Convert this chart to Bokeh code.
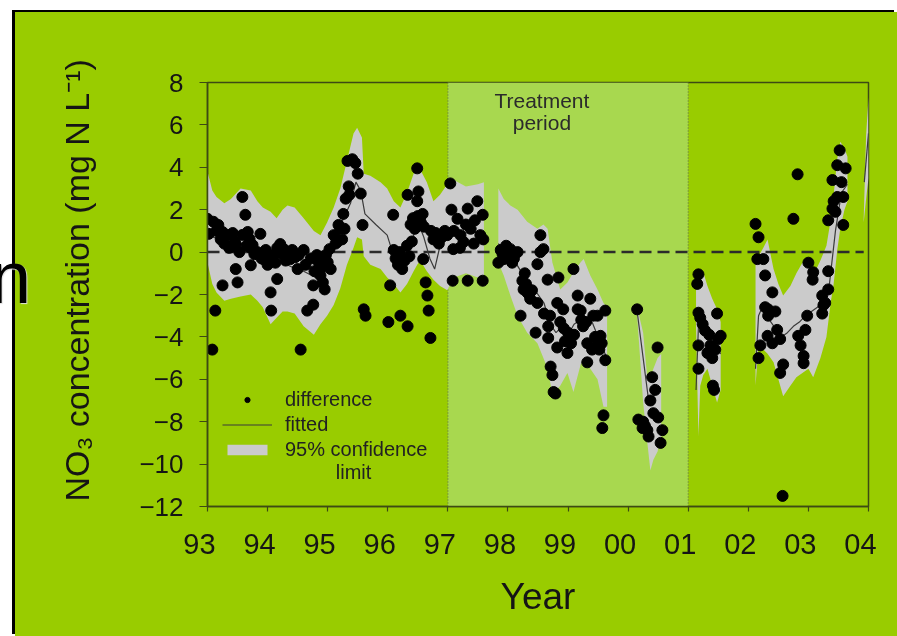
from bokeh.plotting import figure
from bokeh.models import Range1d, FixedTicker, Legend, LegendItem, BoxAnnotation, Span, Label, Div
from bokeh.layouts import column
from bokeh.embed import file_html
from bokeh.resources import INLINE
from bokeh.core.properties import value

# ---------------- data ----------------
year_ticks = [1993, 1994, 1995, 1996, 1997, 1998, 1999, 2000, 2001, 2002, 2003, 2004]
year_labels = ["93", "94", "95", "96", "97", "98", "99", "00", "01", "02", "03", "04"]
conc_ticks = [-12, -10, -8, -6, -4, -2, 0, 2, 4, 6, 8]

treatment_start = 1997.0
treatment_end = 2001.0
zero_x = [1993.0, 2003.92]
zero_y = [0.0, 0.0]

# observed differences, by sampling period
diff1_x = [1993.00, 1993.02, 1993.08, 1993.10, 1993.13, 1993.15, 1993.18, 1993.22, 1993.25, 1993.25,
           1993.28, 1993.33, 1993.36, 1993.38, 1993.42, 1993.45, 1993.47, 1993.47, 1993.50, 1993.53,
           1993.58, 1993.58, 1993.63, 1993.65, 1993.67, 1993.70, 1993.72, 1993.72, 1993.75, 1993.78,
           1993.83, 1993.88, 1993.90, 1993.93, 1993.97, 1994.00, 1994.02, 1994.05, 1994.06, 1994.10,
           1994.13, 1994.16, 1994.16, 1994.21, 1994.25, 1994.27, 1994.30, 1994.33, 1994.38, 1994.41,
           1994.46, 1994.50, 1994.52, 1994.55, 1994.60, 1994.63, 1994.66, 1994.72, 1994.76, 1994.76,
           1994.78, 1994.82, 1994.85, 1994.88, 1994.88, 1994.92, 1994.95, 1994.97, 1995.00, 1995.03,
           1995.05, 1995.10, 1995.13, 1995.16, 1995.18, 1995.21, 1995.24, 1995.26, 1995.28, 1995.30,
           1995.35, 1995.36, 1995.33, 1995.41, 1995.46, 1995.50, 1995.55, 1995.58, 1995.60, 1995.63,
           1996.01, 1996.04, 1996.09, 1996.10, 1996.13, 1996.17, 1996.20, 1996.21, 1996.24, 1996.28,
           1996.32, 1996.33, 1996.33, 1996.36, 1996.38, 1996.40, 1996.42, 1996.45, 1996.49, 1996.49,
           1996.51, 1996.50, 1996.55, 1996.58, 1996.60, 1996.59, 1996.63, 1996.66, 1996.68, 1996.71,
           1996.72, 1996.76, 1996.80, 1996.85, 1996.90, 1996.95, 1996.99, 1997.04, 1997.06, 1997.08,
           1997.09, 1997.10, 1997.16, 1997.20, 1997.21, 1997.26, 1997.30, 1997.33, 1997.33, 1997.38,
           1997.43, 1997.45, 1997.49, 1997.54, 1997.58, 1997.58, 1997.59]
diff1_y = [1.57, 0.86, -4.6, 1.43, -2.76, 1.0, 1.28, 0.6, 0.95, -1.57,
           0.4, 0.81, 0.2, 0.24, 0.9, 0.5, -0.8, 0.38, -1.43, 0.0,
           0.81, 2.6, 1.76, 0.3, 0.95, 0.62, -0.62, 0.2, 0.33, -0.1,
           0.0, 0.86, -0.3, -0.33, 0.1, -0.6, -0.14, -1.9, -2.76, -0.14,
           -0.5, -1.27, 0.2, 0.38, -0.1, 0.14, -0.4, -0.1, -0.33, 0.1,
           -0.24, -0.8, -0.14, -4.6, 0.1, -0.6, -2.76, -0.3, -2.48, -1.57,
           -0.9, -0.14, -0.48, -0.8, -1.1, -1.43, -1.76, -0.14, -0.48, 0.14,
           -0.8, 0.8, 0.4, 0.48, 1.28, 1.1, 0.6, 1.8, 1.1, 2.52,
           3.1, 2.7, 4.3, 4.38, 4.2, 3.7, 2.76, 1.28, -2.7, -3.0,
           -3.3, -1.57, 1.76, 0.1, -0.3, -0.6, 0.0, -3.0, -0.8, -0.4,
           0.3, -3.5, 2.7, -0.2, 1.3, 0.5, 1.6, 1.1, 3.95, 2.4,
           2.86, 1.7, 1.4, 1.8, 1.2, -0.33, -1.43, -2.05, -2.76, -4.05,
           1.0, 0.6, 0.9, 0.4, 0.7, 1.0, 0.8, 3.24, 2.0, -1.35,
           0.14, 1.0, 1.57, 0.2, 0.8, 0.48, 1.3, 2.05, -1.35, 1.1,
           0.4, 1.5, 2.4, 0.8, 1.76, -1.35, 0.6]

diff2_x = [1997.84, 1997.88, 1997.91, 1997.93, 1997.97, 1998.00, 1998.04, 1998.07, 1998.10, 1998.16,
           1998.21, 1998.24, 1998.26, 1998.28, 1998.30, 1998.32, 1998.35, 1998.37, 1998.40, 1998.46,
           1998.49, 1998.49, 1998.54, 1998.54, 1998.59, 1998.60, 1998.66, 1998.67, 1998.67, 1998.70,
           1998.71, 1998.74, 1998.76, 1998.79, 1998.82, 1998.82, 1998.84, 1998.87, 1998.92, 1998.93,
           1998.95, 1998.99, 1999.00, 1999.05, 1999.09, 1999.10, 1999.16, 1999.16, 1999.21, 1999.22,
           1999.25, 1999.30, 1999.32, 1999.32, 1999.37, 1999.40, 1999.42, 1999.45, 1999.49, 1999.49,
           1999.52, 1999.54, 1999.56, 1999.57, 1999.59, 1999.62, 1999.62]
diff2_y = [-0.5, 0.1, -0.1, -0.33, 0.3, -0.2, 0.14, -0.5, -0.3, 0.0,
           -3.0, -1.35, -1.76, -1.0, -1.5, -1.9, -2.0, -2.2, -1.8, -3.8,
           -0.57, -2.4, 0.8, 0.0, 0.14, -2.9, -1.3, -3.5, -4.05, -3.0,
           -5.4, -5.8, -6.6, -6.67, -2.4, -4.5, -1.2, -3.3, -2.7, -3.6,
           -4.2, -4.76, -3.8, -4.3, -0.8, -3.9, -2.05, -2.7, -2.76, -3.2,
           -3.5, -3.3, -4.3, -5.2, -2.2, -4.6, -3.0, -4.0, -3.0, -4.4,
           -4.6, -3.95, -4.3, -8.3, -7.7, -2.76, -5.1]

diff3_x = [2000.15, 2000.17, 2000.24, 2000.25, 2000.28, 2000.32, 2000.34, 2000.37, 2000.40, 2000.42,
           2000.45, 2000.49, 2000.50, 2000.54, 2000.57]
diff3_y = [-2.7, -7.9, -8.3, -8.0, -8.2, -8.4, -8.7, -7.0, -5.9, -7.6,
           -6.5, -4.5, -7.8, -9.0, -8.4]

diff4_x = [2001.15, 2001.17, 2001.17, 2001.17, 2001.17, 2001.20, 2001.24, 2001.28, 2001.32, 2001.35,
           2001.37, 2001.40, 2001.41, 2001.43, 2001.45, 2001.48, 2001.50, 2001.54]
diff4_y = [-1.5, -1.05, -2.86, -4.4, -5.5, -3.1, -3.4, -3.7, -4.76, -3.9,
           -4.4, -5.0, -6.3, -6.5, -4.6, -2.9, -4.1, -3.95]

diff5_x = [2002.12, 2002.15, 2002.17, 2002.17, 2002.20, 2002.25, 2002.28, 2002.28, 2002.32, 2002.33,
           2002.33, 2002.40, 2002.40, 2002.45, 2002.48, 2002.53, 2002.53, 2002.57, 2002.58, 2002.75,
           2002.82, 2002.83, 2002.87, 2002.92, 2002.92, 2002.95, 2002.98, 2003.00, 2003.07, 2003.08,
           2003.23, 2003.23, 2003.25, 2003.28, 2003.33, 2003.33, 2003.33, 2003.40, 2003.40, 2003.42,
           2003.45, 2003.48, 2003.48, 2003.52, 2003.55, 2003.58, 2003.58, 2003.62]
diff5_y = [1.33, -0.33, 0.7, -5.0, -4.4, -0.33, -1.1, -2.6, -3.95, -2.7,
           -3.0, -1.9, -4.3, -2.8, -3.67, -4.1, -5.7, -11.5, -5.3, 1.57,
           3.67, -3.95, -4.4, -4.9, -5.24, -3.67, -3.0, -0.5, -1.3, -0.95,
           -2.05, -2.9, -2.5, -2.4, -0.9, -1.76, 1.5, 2.05, 3.4, 2.4,
           1.9, 2.6, 4.1, 4.8, 3.3, 2.6, 1.28, 3.95]

# fitted trend
fit1_x = [1993.0, 1993.2, 1993.4, 1993.6, 1993.8, 1994.0, 1994.2, 1994.4, 1994.6, 1994.8,
          1994.95, 1995.1, 1995.25, 1995.38, 1995.47, 1995.55, 1995.62, 1995.8, 1995.99, 1996.1,
          1996.2, 1996.3, 1996.43, 1996.52, 1996.6, 1996.7, 1996.78, 1996.87, 1997.0, 1997.2,
          1997.4, 1997.6]
fit1_y = [0.8, 0.6, 0.3, 0.4, 0.1, -0.1, -0.4, -0.7, -0.9, -1.2,
          -0.6, 0.5, 1.5, 2.3, 3.3, 2.9, 1.8, 1.3, 0.8, -0.2,
          -1.0, -0.2, 0.8, 1.3, 0.7, -0.3, -0.8, 0.3, 0.9, 0.9,
          0.9, 1.0]
fit2_x = [1997.84, 1998.0, 1998.15, 1998.3, 1998.45, 1998.6, 1998.7, 1998.8, 1998.9, 1999.0,
          1999.1, 1999.2, 1999.3, 1999.4, 1999.5, 1999.6, 1999.65]
fit2_y = [0.4, -0.1, -0.6, -1.3, -1.8, -2.4, -3.4, -3.8, -3.5, -3.9,
          -3.4, -3.2, -3.6, -3.3, -4.0, -4.7, -5.0]
fit3_x = [2000.15, 2000.25, 2000.35, 2000.42, 2000.5, 2000.55]
fit3_y = [-2.8, -5.0, -7.2, -6.8, -6.5, -6.4]
fit4_x = [2001.13, 2001.17, 2001.25, 2001.35, 2001.45, 2001.54]
fit4_y = [-6.5, -3.5, -3.6, -4.0, -4.5, -4.8]
fit5_x = [2002.12, 2002.17, 2002.25, 2002.35, 2002.45, 2002.55, 2002.65, 2002.75, 2002.85, 2002.95,
          2003.05, 2003.15, 2003.25, 2003.35, 2003.45, 2003.55, 2003.65]
fit5_y = [-5.5, -3.0, -2.5, -3.2, -3.6, -4.0, -3.8, -3.5, -3.3, -3.0,
          -2.8, -2.6, -2.3, -1.5, 1.0, 2.8, 3.2]
fit6_x = [2003.93, 2004.0]
fit6_y = [3.3, 5.6]

# 95% confidence limits
band1_x = [1993.00, 1993.08, 1993.15, 1993.28, 1993.39, 1993.55, 1993.72, 1993.83, 1993.92, 1994.05,
           1994.15, 1994.25, 1994.33, 1994.45, 1994.60, 1994.77, 1994.88, 1994.99, 1995.10, 1995.21,
           1995.32, 1995.43, 1995.49, 1995.57, 1995.60, 1995.71, 1995.88, 1995.99, 1996.10, 1996.21,
           1996.32, 1996.43, 1996.49, 1996.54, 1996.65, 1996.76, 1996.87, 1996.99, 1997.10, 1997.30,
           1997.50, 1997.60]
band1_up = [3.8, 2.9, 2.6, 2.3, 2.5, 3.0, 2.9, 2.4, 2.1, 1.9,
            1.6, 2.0, 2.2, 2.1, 1.6, 1.0, 0.8, 1.4, 2.1, 3.0,
            4.3, 5.6, 5.86, 5.4, 3.7, 3.6, 3.3, 3.0, 2.4, 2.1,
            2.8, 3.7, 4.0, 3.9, 3.3, 2.4, 2.7, 3.2, 3.4, 3.1,
            3.2, 3.3]
band1_lo = [-0.5, -1.5, -1.9, -2.3, -2.2, -2.1, -2.0, -2.3, -2.6, -3.4,
            -3.1, -2.8, -2.8, -2.9, -3.5, -3.9, -3.4, -3.0, -2.5, -1.7,
            -0.6, 0.2, 0.7, 0.6, -0.2, -0.6, -0.8, -1.2, -1.5, -1.9,
            -1.5, -0.9, -0.6, -0.4, -0.9, -1.3, -1.6, -1.8, -1.2, -1.0,
            -1.2, -1.1]
band2_x = [1997.84, 1997.93, 1998.04, 1998.16, 1998.32, 1998.49, 1998.59, 1998.66, 1998.74, 1998.87,
           1998.99, 1999.09, 1999.21, 1999.26, 1999.37, 1999.49, 1999.59, 1999.65]
band2_up = [3.0, 2.5, 2.2, 2.0, 1.43, 1.1, 1.3, 1.1, -0.5, -1.76,
            -1.43, -0.95, -0.48, -0.33, -1.1, -1.76, -2.4, -2.6]
band2_lo = [-0.5, -1.1, -2.05, -3.0, -3.8, -4.3, -5.0, -5.5, -6.7, -6.3,
            -5.7, -6.6, -5.3, -5.1, -5.5, -6.0, -7.3, -7.3]
band3_x = [2000.15, 2000.25, 2000.32, 2000.37, 2000.42, 2000.49, 2000.55]
band3_up = [-2.6, -3.8, -6.0, -5.9, -5.5, -5.0, -4.8]
band3_lo = [-3.0, -7.1, -9.0, -10.3, -9.8, -9.4, -8.7]
band4_x = [2001.13, 2001.17, 2001.20, 2001.25, 2001.32, 2001.40, 2001.48, 2001.54]
band4_up = [-1.6, -1.4, -1.1, -0.95, -1.6, -2.2, -2.7, -3.3]
band4_lo = [-3.5, -8.7, -6.3, -5.8, -5.5, -6.3, -7.1, -6.5]
band5_x = [2002.12, 2002.17, 2002.25, 2002.32, 2002.42, 2002.50, 2002.58, 2002.70, 2002.80, 2002.90,
           2003.00, 2003.08, 2003.20, 2003.30, 2003.37, 2003.42, 2003.48, 2003.53, 2003.60, 2003.65]
band5_up = [-0.5, -0.2, 0.2, 0.6, -0.8, -1.5, -2.05, -1.6, -1.0, -0.5,
            -0.6, -1.1, -0.4, 0.3, 1.5, 2.7, 4.4, 5.2, 4.9, 4.5]
band5_lo = [-6.3, -4.4, -4.6, -4.8, -5.2, -6.0, -6.8, -6.3, -5.9, -5.7,
            -5.5, -5.9, -5.0, -4.0, -2.4, -1.5, 0.1, 1.1, 2.0, 2.4]
band6_x = [2003.92, 2003.96, 2004.0]
band6_up = [1.6, 5.5, 7.3]
band6_lo = [1.4, 2.5, 3.5]

# ---------------- style ----------------
FONT = "Liberation Sans"
BG = "#99cc00"
TREAT = "#a8d84f"
BAND = "#cbcbcb"
AXIS = "#3d4a14"
TXT = "#151515"
NB = "\u00a0"

p = figure(width=882, height=624, output_backend="svg", toolbar_location=None,
           x_range=Range1d(1993, 2004), y_range=Range1d(-12, 8),
           background_fill_color=BG, border_fill_color=BG,
           min_border_left=192, min_border_right=29, min_border_top=70, min_border_bottom=130)
p.styles = {"position": "fixed", "left": "15px", "top": "12px",
            "background-color": BG,
            "box-shadow": "-3px -2px 0px 0px #000000"}
p.xgrid.visible = False
p.ygrid.visible = False
p.outline_line_color = AXIS
p.outline_line_width = 1.5

p.add_layout(BoxAnnotation(left=treatment_start, right=treatment_end, fill_color=TREAT,
                           fill_alpha=1.0, line_alpha=0, level="underlay"))
for loc in (treatment_start, treatment_end):
    p.add_layout(Span(location=loc, dimension="height", line_color="#667744",
                      line_dash="1 2", line_width=1.2, level="underlay"))

bands = [(band1_x, band1_up, band1_lo), (band2_x, band2_up, band2_lo), (band3_x, band3_up, band3_lo),
         (band4_x, band4_up, band4_lo), (band5_x, band5_up, band5_lo), (band6_x, band6_up, band6_lo)]
band_r = [p.varea(x=bx, y1=lo, y2=up, fill_color=BAND, fill_alpha=1.0) for bx, up, lo in bands]

p.line(zero_x, zero_y, line_color="#2b2b2b", line_width=2.5, line_dash="12 6")

fits = [(fit1_x, fit1_y), (fit2_x, fit2_y), (fit3_x, fit3_y), (fit4_x, fit4_y), (fit5_x, fit5_y), (fit6_x, fit6_y)]
fit_r = [p.line(fx, fy, line_color="#3a3a3a", line_width=1.2) for fx, fy in fits]

all_x = diff1_x + diff2_x + diff3_x + diff4_x + diff5_x
all_y = diff1_y + diff2_y + diff3_y + diff4_y + diff5_y
dots = p.scatter(all_x, all_y, size=11, color="black")

# axes
p.xaxis.ticker = FixedTicker(ticks=year_ticks)
p.xaxis.major_label_overrides = {t: s + NB + NB for t, s in zip(year_ticks, year_labels)}
p.yaxis.ticker = FixedTicker(ticks=conc_ticks)
for ax in (p.xaxis, p.yaxis):
    ax.axis_line_color = AXIS
    ax.axis_line_width = 1.5
    ax.major_tick_line_color = AXIS
    ax.major_tick_line_width = 1.2
    ax.major_tick_in = 0
    ax.minor_tick_line_color = None
    ax.major_label_text_font = FONT
    ax.major_label_text_color = TXT
    ax.axis_label_text_font = FONT
    ax.axis_label_text_font_style = "normal"
    ax.axis_label_text_color = TXT
p.xaxis.major_tick_out = 5
p.xaxis.major_label_text_font_size = "29px"
p.xaxis.major_label_standoff = 16
p.xaxis.axis_label = "Year"
p.xaxis.axis_label_text_font_size = "37px"
p.xaxis.axis_label_standoff = 13
p.yaxis.major_tick_out = 8
p.yaxis.major_label_text_font_size = "26px"
p.yaxis.major_label_standoff = 16
p.yaxis.axis_label = NB + NB + NB + "NO\u2083 concentration (mg N L\u207b\u00b9)"
p.yaxis.axis_label_text_font_size = "34px"
p.yaxis.axis_label_standoff = 40

# treatment label
p.text(x=[1998.565, 1998.565], y=[7.15, 6.12], text=["Treatment", "period"],
       text_font=value(FONT), text_font_size="21px", text_color="#2b2b2b",
       text_align="center", text_baseline="alphabetic")

# legend
legend = Legend(items=[LegendItem(label="difference", renderers=[dots]),
                       LegendItem(label="fitted", renderers=[fit_r[0]]),
                       LegendItem(label="95% confidence", renderers=[band_r[0]])],
                location=(15, 45), orientation="vertical",
                background_fill_alpha=0, border_line_alpha=0, padding=0, margin=0, spacing=2,
                glyph_width=50, glyph_height=13, label_standoff=13, label_height=20,
                label_text_font=FONT, label_text_font_size="20px", label_text_color="#222222")
p.add_layout(legend)
p.add_layout(Label(x=1995.43, y=-10.35, text="limit", text_font=FONT, text_font_size="20px",
                   text_color="#222222", text_align="center", text_baseline="alphabetic"))

# letter of the slide text that is cut by the window's left edge
n_div = Div(text="n", width=60, height=80,
            styles={"position": "fixed", "left": "-15px", "top": "236px",
                    "font-family": "Liberation Sans", "font-size": "74px", "line-height": "1",
                    "color": "#000000", "text-shadow": "1px 1px 1px #e0e0e0", "z-index": "5"})

page = column(p, n_div, styles={"position": "fixed", "left": "0px", "top": "0px", "overflow": "visible"})
open("out.html", "w").write(file_html(page, INLINE))
